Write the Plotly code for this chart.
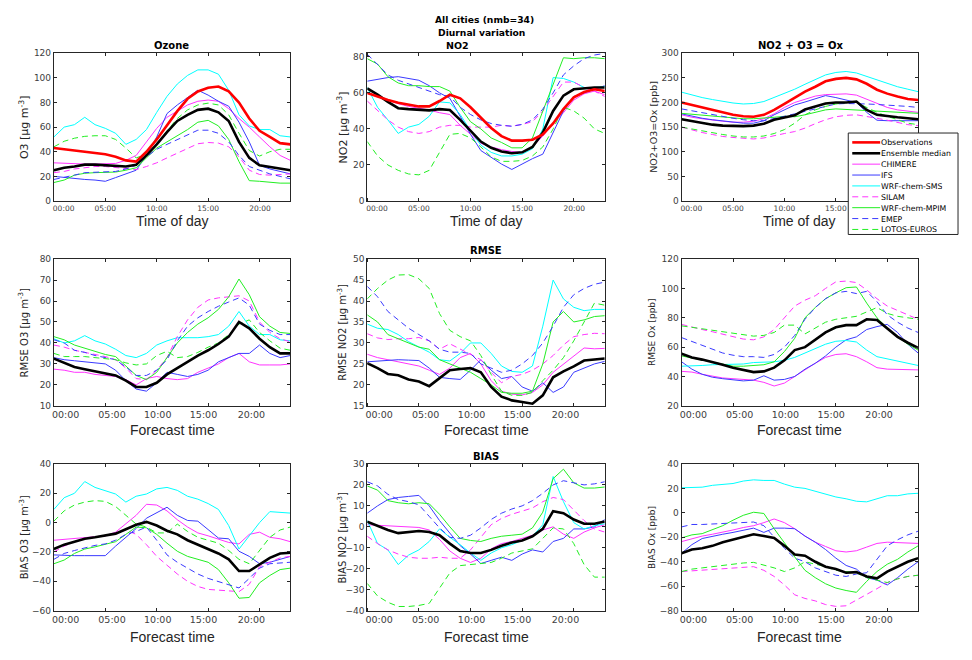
import plotly.graph_objects as go

W, H = 972, 660

hours = list(range(24))
tick_vals = [0, 5, 10, 15, 20]
tick_text = ["00:00", "05:00", "10:00", "15:00", "20:00"]

series_names = ["Observations", "Ensemble median", "CHIMERE", "IFS", "WRF-chem-SMS",
                "SILAM", "WRF-chem-MPIM", "EMEP", "LOTOS-EUROS"]

# ---------------- Diurnal variation ----------------
o3_obs = [43, 42, 41, 40, 39, 38, 36, 33, 32, 40, 50, 62, 73, 83, 89, 92, 93, 89, 80, 67, 57, 52, 47, 46]
o3_ens = [25, 27, 28, 29.5, 29.5, 29, 29, 28, 29.5, 37, 46, 56, 65, 70, 74, 75, 72, 65, 48, 35, 29, 27.5, 26, 25]
o3_chimere = [31, 30.5, 30, 30, 30, 30, 30.5, 33, 37, 48, 59, 68, 73, 78, 81, 82, 81, 75, 67, 60, 52, 44, 37, 33]
o3_ifs = [20, 19, 18, 17.5, 17, 16, 19, 22, 25, 37, 52, 71, 78, 84, 90, 86, 81, 77, 64, 48, 29, 26, 24, 22]
o3_wrfsms = [52, 60, 62, 68, 62, 59, 55, 46, 50, 58, 72, 85, 95, 102, 106.5, 106.5, 103, 90, 70, 61, 58, 58, 53, 52]
o3_silam = [23, 24, 26, 27, 28, 28, 27, 26, 25.5, 28, 31, 35, 39, 43, 46.5, 47.5, 47, 44, 36, 25, 21.5, 21, 21.5, 22]
o3_mpim = [15, 17, 21, 22.5, 23, 23, 23.5, 25, 27, 35, 43, 48, 53, 58, 64, 65.5, 61, 50, 32, 16.5, 16, 15, 14.5, 14.5]
o3_emep = [17.5, 19, 21, 23, 23.5, 23.5, 24, 26, 29, 36, 42, 46, 50, 54, 57.5, 57.5, 55, 48, 37, 28, 25, 22, 20, 18]
o3_lotos = [44, 48.5, 51, 52.5, 53, 53, 50, 43, 35, 38, 46, 57, 67, 74, 78, 79.5, 78, 70, 55, 41, 36.5, 40, 42, 42]

no2_obs = [60, 58, 56, 54.5, 53.5, 52.5, 52.5, 55.5, 59, 57, 52, 46, 40.5, 36, 33.5, 33.5, 34, 37, 43, 51, 57.5, 60.5, 62, 61]
no2_ens = [62.5, 59, 55, 51.5, 51, 50.5, 50.3, 51, 50.5, 45, 39, 33, 29.5, 27.5, 26.5, 27, 30, 38, 50, 58.5, 62, 62.5, 63, 63]
no2_chimere = [60, 58, 56, 54, 52.5, 51.5, 50.5, 49, 48, 42, 37, 32, 30, 28.5, 27.5, 27, 30, 36, 43, 49, 56, 59.5, 61, 59]
no2_ifs = [66.5, 67.5, 68.5, 69, 68, 67, 64, 60, 57, 47, 37, 28, 24, 20.5, 17.5, 20.5, 23.5, 26, 38, 50, 58, 60, 62, 64]
no2_wrfsms = [63, 52, 45, 37.5, 41, 42.5, 47, 55, 54.5, 48, 39, 31, 27, 25, 25, 26, 29, 40, 68.5, 68, 66, 63, 63, 63.5]
no2_silam = [55.5, 50, 45, 41, 38.5, 37.5, 38.5, 41, 42, 42, 41, 41, 41, 42, 41.5, 42.5, 44, 50, 58, 66, 66, 63, 61, 58]
no2_mpim = [79, 76, 69, 65.5, 64, 64, 63.5, 63.5, 61, 52, 44, 40, 35, 32.5, 29.5, 29.5, 35, 50, 65, 79.5, 79, 79.5, 79.5, 79]
no2_emep = [81.5, 76, 70, 67, 65, 63, 61, 59, 58, 52, 48, 45, 43, 42, 41.5, 42.5, 45, 51, 60, 70, 75, 79, 81, 82]
no2_lotos = [33, 25, 20, 17, 15, 14.5, 17, 27, 37, 37.5, 35, 30, 24.5, 22, 22, 22.5, 25, 30, 40, 52, 50, 46, 40, 37.5]

ox_obs = [200, 195, 189, 184, 179, 175, 172, 171, 175, 185, 197, 210, 222, 232, 243, 248, 250, 247, 238, 226, 218, 212, 207, 205]
ox_ens = [166, 162, 158, 155, 153, 152, 152, 153, 157, 165, 170, 174, 186, 192, 198, 200, 200, 202, 185, 175, 172, 170, 168, 166]
ox_chimere = [175, 170, 167, 164, 162, 160, 160, 162, 167, 177, 190, 200, 207, 213, 216, 217, 217.5, 215, 207, 198, 190, 185, 182, 180]
ox_ifs = [177, 172, 168, 165, 163, 160, 158, 158, 163, 175, 185, 195, 201, 208, 214, 210, 205, 200, 180, 164, 163, 163, 163, 163]
ox_wrfsms = [221, 215, 210, 206, 202, 199, 197, 198, 202, 210, 218, 227, 237, 247, 256, 261, 263, 260, 253, 245, 238, 232, 227, 222]
ox_silam = [150, 144, 139, 135, 131, 129, 127, 126, 128, 133, 137, 141, 148, 157, 165, 171, 174, 175, 172, 168, 164, 160, 155, 153]
ox_mpim = [178, 176, 174, 172, 170, 168, 167, 167, 168, 170, 172, 171, 175, 180, 185, 187, 186, 184, 183, 182, 181, 180, 179, 178]
ox_emep = [187, 183, 179, 175, 171, 168, 165, 163, 163, 167, 172, 177, 182, 188, 193, 197, 198, 198, 197, 196, 195, 193, 192, 190]
ox_lotos = [150, 146, 142, 138, 135, 132, 130, 130, 132, 137, 145, 158, 175, 185, 192, 197, 200, 200, 190, 180, 172, 165, 158, 155]

# ---------------- RMSE ----------------
rmse_o3_ens = [32.5, 30.5, 28.5, 27.5, 26.5, 25.5, 24.5, 22, 19, 19, 21, 25, 28, 31, 34, 36.5, 39.5, 43, 50, 47, 42, 38, 35, 35]
rmse_o3_chimere = [27.5, 27, 26, 26, 25, 24.5, 24, 22.5, 20, 23, 24, 23, 22.5, 23, 26, 28, 30, 33, 35, 31, 29.5, 29.5, 29.5, 30]
rmse_o3_ifs = [33, 32, 31.5, 31, 30.5, 30, 27, 22, 18, 17, 21, 26, 25, 24, 25, 27, 31, 33, 35, 35, 39, 35, 33, 34]
rmse_o3_wrfsms = [42, 40, 41, 43.5, 41, 39.5, 37, 34, 33, 35, 39, 41, 42.5, 42.5, 42.5, 43, 44, 48, 55, 48, 44, 44, 41.5, 41]
rmse_o3_silam = [39, 38, 36.5, 35.5, 34.5, 33.5, 32, 28, 23, 22.5, 27, 33, 43, 51, 57, 60.5, 61.5, 62, 62.5, 60, 50, 45, 42, 40.5]
rmse_o3_mpim = [43, 41.5, 39, 37.5, 36, 34.5, 33.5, 29, 24.5, 22.5, 26, 33, 40, 45, 49, 52, 56, 62, 70.5, 63, 52.5, 48, 45, 44.5]
rmse_o3_emep = [41.5, 40, 36.5, 35.5, 34, 33, 32, 28.5, 24.5, 24.5, 27, 32, 41, 48, 52, 55, 57.5, 59.5, 61.5, 58, 49, 46, 44, 44]
rmse_o3_lotos = [35, 33.5, 33.5, 33.5, 33, 32.5, 32, 30.5, 29.5, 30, 34, 36, 33, 33.5, 35.5, 38, 40, 44, 49, 51, 45, 41, 37.5, 36.5]

rmse_no2_ens = [25.2, 24, 22.6, 22.3, 21.3, 20.8, 19.7, 21.5, 23.5, 23.8, 24, 23, 19.5, 17.2, 16.3, 15.9, 15.5, 17.5, 21.8, 23.2, 24.4, 25.8, 26.1, 26.3]
rmse_no2_chimere = [27.3, 26.5, 26, 25.5, 25, 24.5, 23.5, 22.5, 24, 26.5, 27.5, 25, 21, 18.5, 17.8, 17.6, 18.2, 20, 23, 25, 27, 28.8, 28.6, 28.7]
rmse_no2_ifs = [25.5, 25.7, 25.9, 26, 25.9, 25.8, 24, 21.8, 21.5, 21.3, 23.5, 26, 23.5, 21.5, 22, 19.5, 18.5, 20.5, 18.2, 19.5, 23, 24, 25, 25.6]
rmse_no2_wrfsms = [34.5, 33.5, 33.2, 32, 30.3, 29, 27.8, 26, 25.7, 27.5, 30, 30, 27.5, 24.5, 23.2, 23, 24.5, 34, 45, 40.5, 38.5, 37.7, 38, 38]
rmse_no2_silam = [32.2, 31.2, 30.8, 31, 31, 31.3, 30.5, 28.5, 29.8, 28.5, 27.3, 26, 23, 20.5, 22, 22.5, 23.5, 25, 27, 29.5, 31.5, 32, 32.3, 32.2]
rmse_no2_mpim = [36.7, 35, 32, 31, 30, 29, 28.5, 26, 25, 24, 23, 21.5, 20, 18.2, 18, 18, 18.5, 25, 35, 37.5, 35, 35.5, 36.3, 36.5]
rmse_no2_emep = [43.5, 41, 37.5, 35.5, 33.5, 32, 30.5, 28.5, 27.8, 27.8, 27.5, 25, 24, 23, 23.5, 25, 27, 30, 34, 38.5, 41.5, 43, 44, 44.5]
rmse_no2_lotos = [40.5, 43, 45, 46.2, 46.3, 45.3, 43, 37, 33, 31.5, 30.5, 27, 22.5, 18.5, 17.5, 17.5, 18.2, 21, 23.5, 26.5, 30.5, 35, 39.5, 39]

rmse_ox_ens = [55.5, 53, 51.5, 50, 48, 46, 44.5, 43, 43.5, 46, 51, 58, 60, 65, 70, 73.5, 75, 75, 79, 78.5, 73, 67, 63, 59.5]
rmse_ox_chimere = [43.5, 43, 41.5, 40, 39, 38.5, 38, 37.5, 36, 33.5, 35.5, 40, 45, 49, 53, 55, 55.5, 53.5, 50, 46, 45, 45, 44.8, 44.5]
rmse_ox_ifs = [50, 45, 41.5, 39.5, 38.5, 38, 37, 37.5, 40.5, 37.5, 38, 40, 45, 49, 54, 60, 65, 67, 72, 74, 75.5, 70, 62, 56]
rmse_ox_wrfsms = [47, 47, 47.5, 48, 48, 48, 48.5, 49.5, 49.5, 50, 51, 53, 56, 59, 62, 64, 64.5, 63.5, 58, 53.5, 52, 50, 48.5, 47.5]
rmse_ox_silam = [75.5, 73.5, 72, 70.5, 69, 67, 65.5, 65, 67, 72, 80, 88, 92, 95, 100, 104.5, 105, 104, 99, 93, 88, 85, 82, 79]
rmse_ox_mpim = [54, 52.5, 51, 49.5, 48, 47, 47, 47.5, 48, 50, 57, 66, 80, 87, 93, 97, 100.5, 101, 90, 80, 73, 67, 62, 58]
rmse_ox_emep = [66.5, 64, 61, 58.5, 56, 54.5, 53.5, 53.5, 53, 55, 60, 68, 79, 87, 93, 97, 98, 96.5, 98, 91, 82, 77, 73, 70]
rmse_ox_lotos = [74.5, 73.5, 72.5, 72, 71, 70, 68.5, 67.5, 68, 70, 75, 75, 69, 73, 77, 79, 80, 81, 84, 87, 83, 81, 80, 79]

# ---------------- BIAS ----------------
bias_o3_ens = [-18, -15, -13, -11, -10, -9, -7.5, -4.5, -1.5, 0.5, -2, -5.5, -8, -12, -15, -18, -21, -25, -33, -33, -28.5, -24, -21, -20.5]
bias_o3_chimere = [-12, -11.5, -11, -10.5, -9.5, -9, -6.5, -1, 5, 12.5, 12, 8, 2, -3, -7, -9, -11, -13.5, -14.5, -8, -6.5, -10, -11, -13]
bias_o3_ifs = [-22, -22.5, -22.5, -22.5, -22.5, -22.5, -16, -10, -4, 3, 7, 10.5, 5, 1.5, 1, -5, -10.5, -11, -19.5, -23, -28, -27, -25, -23]
bias_o3_wrfsms = [9, 17, 20, 28, 24, 22, 19.5, 14, 18, 19.5, 23, 24, 22, 18, 16, 13, 9, -2, -18, -9, 0, 7.5, 7, 6.5]
bias_o3_silam = [-20, -16, -13, -11, -10, -9, -7, -5, -8, -15, -23, -29, -35, -40, -43.5, -45.5, -46, -46, -47, -42, -30, -27, -24, -23]
bias_o3_mpim = [-28, -25.5, -21, -18, -16.5, -15, -13, -8, -3, -3.5, -8, -14, -19.5, -23, -25, -27, -32, -41, -51.5, -51, -41, -36, -32, -31]
bias_o3_emep = [-25, -21, -19, -17, -15.5, -14.5, -12, -8, -6, -3, -12, -22, -27, -31, -35, -38, -40, -42, -44.5, -38, -31, -28, -27.5, -27]
bias_o3_lotos = [1, 8, 12, 14, 15, 14.5, 11, 5, -1, -3, -7, -7, -1, -6, -10, -12, -14, -19, -25, -28, -19, -10, -5, -3]

bias_no2_ens = [2.5, 0.5, -1.5, -3, -2.5, -2, -2.5, -4, -8, -11.5, -12.5, -12.5, -11, -9, -7.5, -6.5, -4.5, -1, 7.5, 6.5, 3.5, 1.5, 1.5, 2.5]
bias_no2_chimere = [1, 0.8, 0.5, 0.3, 0.1, -0.3, -1.5, -6, -11.5, -15, -17, -15, -10.5, -8, -7, -5.5, -4, -1.5, 0, -3.5, -5.5, -2.5, -0.5, 1]
bias_no2_ifs = [6.5, 10, 13, 14, 14.5, 15, 10, 3, -3, -9, -13, -17.5, -16, -14.5, -16, -13, -11, -12, -7, -5.5, -1, -1, 0, 3.5]
bias_no2_wrfsms = [3, -8, -11, -18, -13.5, -11, -7, -1, -5, -8.5, -12.5, -16, -12.5, -10, -8.5, -6.5, -4.5, 1, 24, 12, 2, -1, 0.5, 1.5]
bias_no2_silam = [-4.5, -8, -11, -13, -14.5, -15, -15, -14.5, -15, -15, -11, -5, 1, 4, 6, 7.5, 9, 12, 14, 13, 8, 3, -1, -2.5]
bias_no2_mpim = [19.5, 17.5, 12.5, 11.5, 11, 11.5, 11, 6, 0, -5.5, -6.5, -7, -5.5, -4.5, -4, -3.5, -0.5, 7, 23, 27.5, 21, 18.5, 18.5, 19]
bias_no2_emep = [21.5, 19.5, 15.5, 13, 12, 10.5, 5, -0.5, -5, -5.5, -4, -0.5, 3.5, 6.5, 8.5, 10, 12.5, 16, 20, 22, 21, 20, 20.5, 21.5]
bias_no2_lotos = [-27, -33, -36, -38, -38, -37.5, -36.5, -29, -22, -18.5, -18, -17.5, -17, -15, -12.5, -11.5, -10.5, -5.5, -0.5, -1, -8, -18, -24, -24]

bias_ox_ens = [-33, -30, -29, -27, -24, -22, -20, -17.5, -19, -20.5, -27, -34, -35, -40, -44, -46, -49, -48.5, -52, -53.5, -48, -44, -40, -37]
bias_ox_chimere = [-23.5, -21, -19, -17.5, -16, -14, -12, -10.5, -8, -5, -8, -13, -19, -24, -27.5, -31, -32, -31, -28, -25, -24, -24.5, -25, -25]
bias_ox_ifs = [-33, -26, -21, -19, -17.5, -16, -14, -12.5, -16, -12.5, -12.5, -13, -19, -24, -30, -37, -43, -46, -53, -55, -59, -53, -46, -40]
bias_ox_wrfsms = [20.5, 20.5, 21, 22.5, 23.5, 24, 26, 27, 26.5, 26.5, 23.5, 21, 20, 17.5, 15, 13, 11.5, 9.5, 9, 11.5, 14, 14, 15.5, 16]
bias_ox_silam = [-48, -47.5, -47, -46.5, -46, -45, -44.5, -44, -47, -52, -59, -67, -70, -72, -75, -76.5, -76, -71.5, -67, -62, -57, -54, -52, -51]
bias_ox_mpim = [-20.5, -18, -17, -14, -10.5, -6, -2, 0.5, -0.5, -13, -25, -36, -47, -53, -58, -61.5, -63.5, -65, -56, -48, -42, -38, -32, -27]
bias_ox_emep = [-11.5, -9.5, -9.5, -9, -9, -8.5, -8, -7.5, -10.5, -20, -29, -37, -40, -45, -48, -51, -52, -50, -49, -38, -27, -22, -18, -15]
bias_ox_lotos = [-48, -46, -45, -44, -43, -41.5, -41, -40.5, -42.5, -45, -48, -45, -40, -42, -44, -47, -48, -49, -53, -55, -57, -54, -52, -51]

# ---------------- styles ----------------
style = {
    "Observations": dict(color="#ff0000", width=2.6, dash="solid"),
    "Ensemble median": dict(color="#000000", width=2.6, dash="solid"),
    "CHIMERE": dict(color="#ff33ff", width=1, dash="solid"),
    "IFS": dict(color="#3a3aff", width=1, dash="solid"),
    "WRF-chem-SMS": dict(color="#00ffff", width=1, dash="solid"),
    "SILAM": dict(color="#ff33ff", width=1, dash="6px,4px"),
    "WRF-chem-MPIM": dict(color="#22ee22", width=1, dash="solid"),
    "EMEP": dict(color="#3a3aff", width=1, dash="6px,4px"),
    "LOTOS-EUROS": dict(color="#22ee22", width=1, dash="6px,4px"),
}
draw_order = ["CHIMERE", "IFS", "WRF-chem-SMS", "SILAM", "WRF-chem-MPIM", "EMEP",
              "LOTOS-EUROS", "Ensemble median", "Observations"]

panels = [
    dict(data={"Observations": o3_obs, "Ensemble median": o3_ens, "CHIMERE": o3_chimere, "IFS": o3_ifs,
               "WRF-chem-SMS": o3_wrfsms, "SILAM": o3_silam, "WRF-chem-MPIM": o3_mpim, "EMEP": o3_emep,
               "LOTOS-EUROS": o3_lotos},
         yr=[0, 120], yt=list(range(0, 121, 20)), ylab="O3 [μg m<sup>-3</sup>]", ylfs=11),
    dict(data={"Observations": no2_obs, "Ensemble median": no2_ens, "CHIMERE": no2_chimere, "IFS": no2_ifs,
               "WRF-chem-SMS": no2_wrfsms, "SILAM": no2_silam, "WRF-chem-MPIM": no2_mpim, "EMEP": no2_emep,
               "LOTOS-EUROS": no2_lotos},
         yr=[0, 82], yt=list(range(0, 81, 20)), ylab="NO2 [μg m<sup>-3</sup>]", ylfs=11),
    dict(data={"Observations": ox_obs, "Ensemble median": ox_ens, "CHIMERE": ox_chimere, "IFS": ox_ifs,
               "WRF-chem-SMS": ox_wrfsms, "SILAM": ox_silam, "WRF-chem-MPIM": ox_mpim, "EMEP": ox_emep,
               "LOTOS-EUROS": ox_lotos},
         yr=[0, 300], yt=list(range(0, 301, 50)), ylab="NO2+O3=Ox [ppb]", ylfs=9.5),
    dict(data={"Ensemble median": rmse_o3_ens, "CHIMERE": rmse_o3_chimere, "IFS": rmse_o3_ifs,
               "WRF-chem-SMS": rmse_o3_wrfsms, "SILAM": rmse_o3_silam, "WRF-chem-MPIM": rmse_o3_mpim,
               "EMEP": rmse_o3_emep, "LOTOS-EUROS": rmse_o3_lotos},
         yr=[10, 80], yt=list(range(10, 81, 10)), ylab="RMSE O3 [μg m<sup>-3</sup>]", ylfs=10),
    dict(data={"Ensemble median": rmse_no2_ens, "CHIMERE": rmse_no2_chimere, "IFS": rmse_no2_ifs,
               "WRF-chem-SMS": rmse_no2_wrfsms, "SILAM": rmse_no2_silam, "WRF-chem-MPIM": rmse_no2_mpim,
               "EMEP": rmse_no2_emep, "LOTOS-EUROS": rmse_no2_lotos},
         yr=[15, 50], yt=list(range(15, 51, 5)), ylab="RMSE NO2 [μg m<sup>-3</sup>]", ylfs=10),
    dict(data={"Ensemble median": rmse_ox_ens, "CHIMERE": rmse_ox_chimere, "IFS": rmse_ox_ifs,
               "WRF-chem-SMS": rmse_ox_wrfsms, "SILAM": rmse_ox_silam, "WRF-chem-MPIM": rmse_ox_mpim,
               "EMEP": rmse_ox_emep, "LOTOS-EUROS": rmse_ox_lotos},
         yr=[20, 120], yt=list(range(20, 121, 20)), ylab="RMSE Ox [ppb]", ylfs=9),
    dict(data={"Ensemble median": bias_o3_ens, "CHIMERE": bias_o3_chimere, "IFS": bias_o3_ifs,
               "WRF-chem-SMS": bias_o3_wrfsms, "SILAM": bias_o3_silam, "WRF-chem-MPIM": bias_o3_mpim,
               "EMEP": bias_o3_emep, "LOTOS-EUROS": bias_o3_lotos},
         yr=[-60, 40], yt=list(range(-60, 41, 20)), ylab="BIAS O3 [μg m<sup>-3</sup>]", ylfs=10),
    dict(data={"Ensemble median": bias_no2_ens, "CHIMERE": bias_no2_chimere, "IFS": bias_no2_ifs,
               "WRF-chem-SMS": bias_no2_wrfsms, "SILAM": bias_no2_silam, "WRF-chem-MPIM": bias_no2_mpim,
               "EMEP": bias_no2_emep, "LOTOS-EUROS": bias_no2_lotos},
         yr=[-40, 30], yt=list(range(-40, 31, 10)), ylab="BIAS NO2 [μg m<sup>-3</sup>]", ylfs=10),
    dict(data={"Ensemble median": bias_ox_ens, "CHIMERE": bias_ox_chimere, "IFS": bias_ox_ifs,
               "WRF-chem-SMS": bias_ox_wrfsms, "SILAM": bias_ox_silam, "WRF-chem-MPIM": bias_ox_mpim,
               "EMEP": bias_ox_emep, "LOTOS-EUROS": bias_ox_lotos},
         yr=[-80, 40], yt=list(range(-80, 41, 20)), ylab="BIAS Ox [ppb]", ylfs=9),
]

col_px = [(52, 289), (366, 604), (681, 918)]
row_px = [(49, 199), (258, 407), (466, 615)]
ylab_x = [22, 341, 652]
xtitle_y = [219, 432, 642]
xtitles = ["Time of day", "Forecast time", "Forecast time"]
# where the source figure prints its hour labels (they sit slightly off the tick marks)
label_pos = [[0.95, 5, 10, 15, 20.05], [1.15, 5.65, 10.1, 14.55, 19.2], [1.15, 5.65, 10.1, 14.55, 19.2]]

def px(x):
    return x / W

def py(y):
    return 1 - y / H

AX = "#262626"
TICKC = "#404040"

fig = go.Figure()
annotations = []
layout_axes = {}

for i, p in enumerate(panels):
    r, c = divmod(i, 3)
    k = i + 1
    xa = "x" if k == 1 else f"x{k}"
    ya = "y" if k == 1 else f"y{k}"
    for name in draw_order:
        if name not in p["data"]:
            continue
        st = style[name]
        fig.add_trace(go.Scatter(
            x=hours, y=p["data"][name], mode="lines", name=name,
            line=dict(color=st["color"], width=st["width"], dash=st["dash"]),
            xaxis=xa, yaxis=ya, showlegend=False, hoverinfo="skip"))
    x0, x1 = col_px[c]
    y0, y1 = row_px[r]
    xkey = "xaxis" if k == 1 else f"xaxis{k}"
    ykey = "yaxis" if k == 1 else f"yaxis{k}"
    layout_axes[xkey] = dict(
        domain=[px(x0), px(x1)], range=[0, 23], anchor=ya,
        tickmode="array", tickvals=label_pos[r], ticktext=tick_text, ticks="", ticklen=0,
        minor=dict(tickmode="array", tickvals=tick_vals, ticks="inside", ticklen=3,
                   tickcolor=AX, showgrid=False),
        showline=True, linecolor=AX, linewidth=1, mirror="ticks",
        showgrid=False, zeroline=False,
        tickfont=dict(family="DejaVu Sans", size=7.5 if r == 0 else 9.5, color=TICKC))
    layout_axes[ykey] = dict(
        domain=[py(y1), py(y0)], range=p["yr"], anchor=xa,
        tickvals=p["yt"], ticks="inside", ticklen=3,
        tickcolor=AX, showline=True, linecolor=AX, linewidth=1, mirror="ticks",
        showgrid=False, zeroline=False,
        tickfont=dict(family="DejaVu Sans", size=9, color=TICKC))
    annotations.append(dict(
        text=p["ylab"], x=px(ylab_x[c]), y=py((y0 + y1) / 2), xref="paper", yref="paper",
        textangle=-90, showarrow=False, xanchor="center", yanchor="middle",
        font=dict(family="DejaVu Sans", size=p["ylfs"], color=AX)))
    annotations.append(dict(
        text=xtitles[r], x=px((x0 + x1) / 2), y=py(xtitle_y[r]), xref="paper", yref="paper",
        showarrow=False, xanchor="center", yanchor="middle",
        font=dict(family="Liberation Sans", size=14, color=AX)))

titles = [
    ("All cities (nmb=34)", 483, 15, 9.2),
    ("Diurnal variation", 480, 28, 9.2),
    ("NO2", 456, 41, 9.5),
    ("Ozone", 170, 41, 10),
    ("NO2 + O3 = Ox", 800, 41, 10),
    ("RMSE", 485, 249, 10),
    ("BIAS", 485, 458, 10),
]
for t, x, y, s in titles:
    annotations.append(dict(
        text=f"<b>{t}</b>", x=px(x), y=py(y), xref="paper", yref="paper",
        showarrow=False, xanchor="center", yanchor="middle",
        font=dict(family="DejaVu Sans", size=s, color="#000000")))

# ---------------- legend box (drawn manually to match compact spacing) ----------------
shapes = [dict(type="rect", xref="paper", yref="paper",
               x0=px(848), x1=px(958), y0=py(233), y1=py(130),
               line=dict(color=AX, width=1), fillcolor="white", layer="above")]
leg_y0, leg_dy = 139.5, 11.05
for j, name in enumerate(series_names):
    st = style[name]
    yy = leg_y0 + j * leg_dy
    shapes.append(dict(type="line", xref="paper", yref="paper",
                       x0=px(852), x1=px(880), y0=py(yy), y1=py(yy),
                       line=dict(color=st["color"], width=st["width"], dash=st["dash"]),
                       layer="above"))
    annotations.append(dict(
        text=name, x=px(880), y=py(yy), xref="paper", yref="paper",
        showarrow=False, xanchor="left", yanchor="middle", height=10, borderpad=0,
        font=dict(family="DejaVu Sans", size=7.8, color="#000000")))

fig.update_layout(
    width=W, height=H, margin=dict(l=0, r=0, t=0, b=0),
    paper_bgcolor="white", plot_bgcolor="white",
    showlegend=False, annotations=annotations, shapes=shapes,
    **layout_axes)

fig.write_html("out.html", config={"displayModeBar": False},
               post_script="document.body.style.margin='0';document.body.style.overflow='hidden';")
